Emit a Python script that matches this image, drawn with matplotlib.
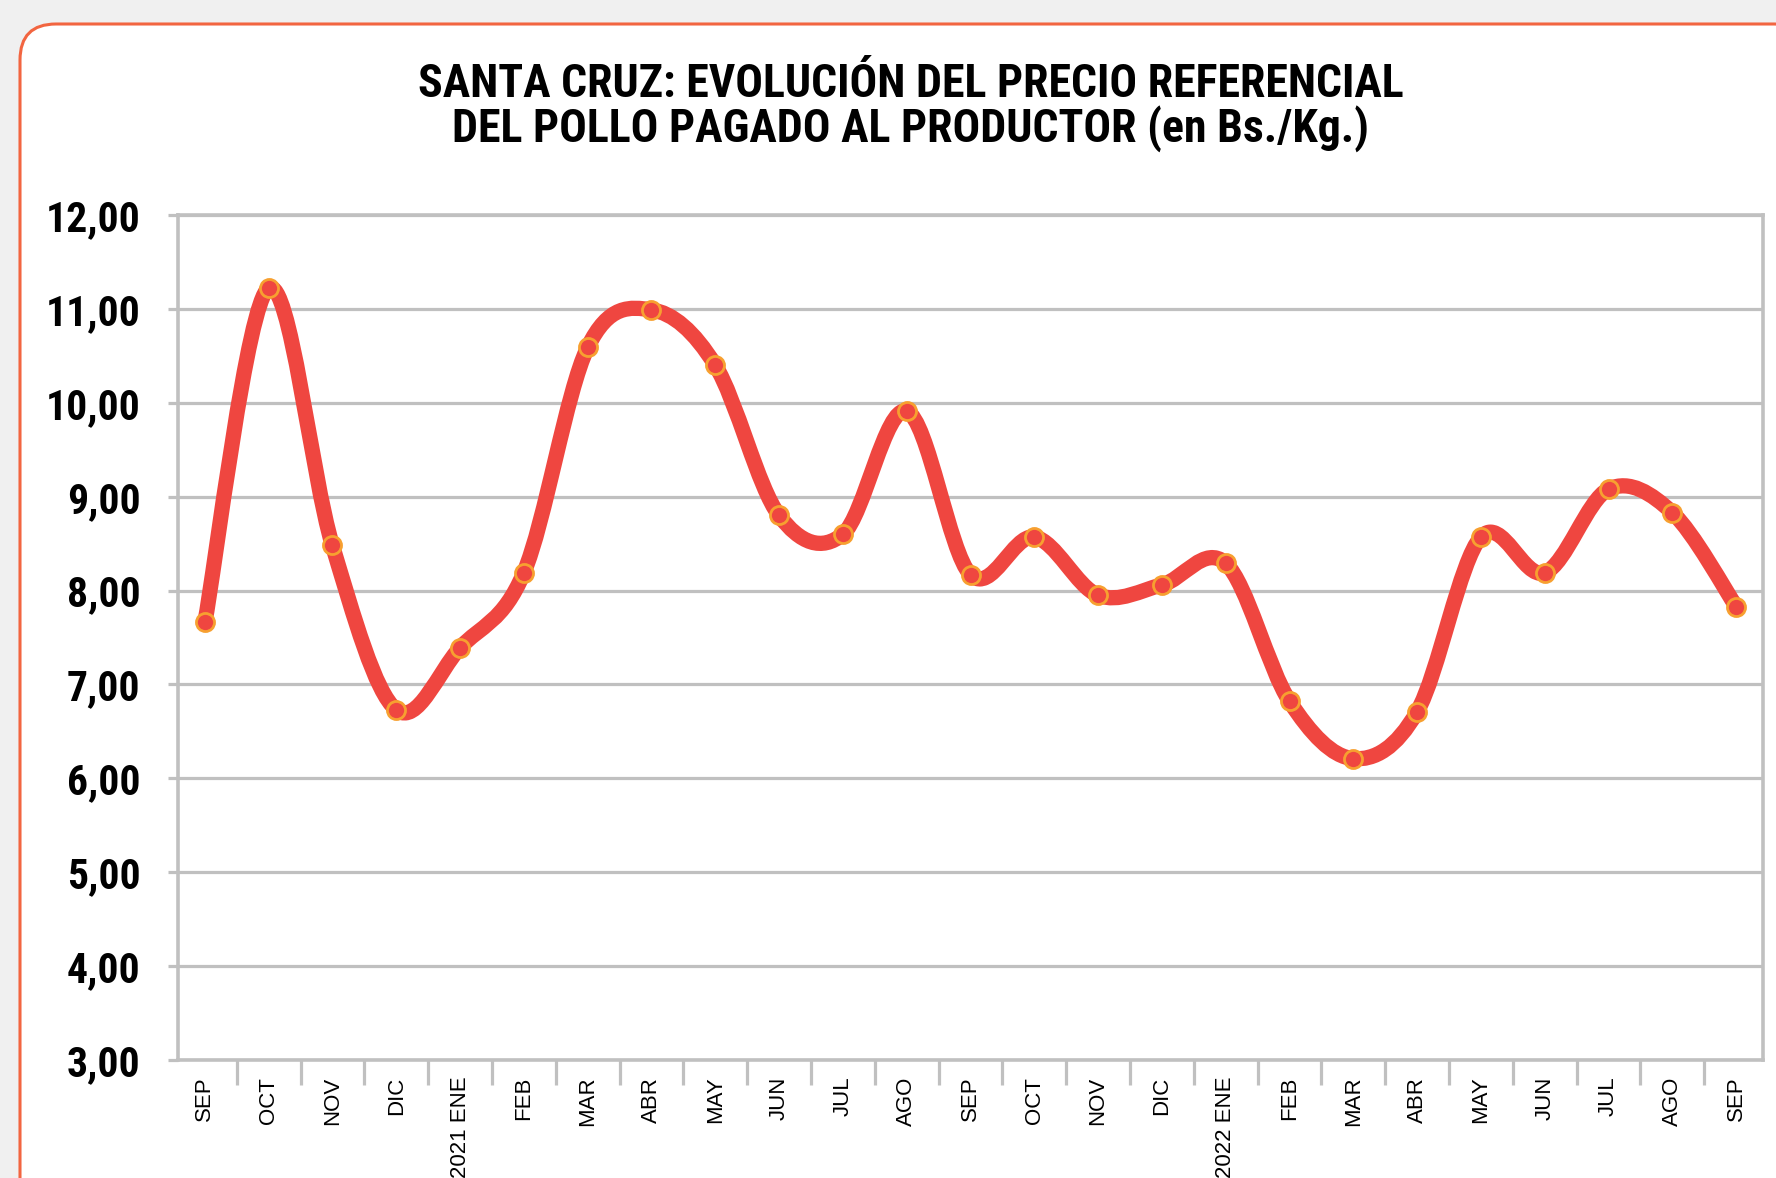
import numpy as np
import matplotlib.pyplot as plt
from matplotlib import font_manager
from matplotlib.path import Path
from matplotlib.patches import PathPatch, FancyBboxPatch

meses = ['SEP', 'OCT', 'NOV', 'DIC', '2021 ENE', 'FEB', 'MAR', 'ABR', 'MAY', 'JUN', 'JUL', 'AGO',
         'SEP', 'OCT', 'NOV', 'DIC', '2022 ENE', 'FEB', 'MAR', 'ABR', 'MAY', 'JUN', 'JUL', 'AGO', 'SEP']
precio = [7.66, 11.22, 8.48, 6.73, 7.39, 8.19, 10.59, 10.99, 10.40, 8.80, 8.60, 9.91,
          8.17, 8.57, 7.95, 8.06, 8.29, 6.82, 6.21, 6.71, 8.57, 8.19, 9.08, 8.83, 7.83]
y_ticks = [3, 4, 5, 6, 7, 8, 9, 10, 11, 12]

titulo = 'SANTA CRUZ: EVOLUCIÓN DEL PRECIO REFERENCIAL\nDEL POLLO PAGADO AL PRODUCTOR (en Bs./Kg.)'

# buscar una fuente estrecha instalada
fonts = font_manager.fontManager.ttflist
names = {f.name for f in fonts}
narrow = None
for n in ['Liberation Sans Narrow', 'Arial Narrow', 'Roboto Condensed', 'Open Sans Condensed',
          'Noto Sans Condensed', 'DejaVu Sans Condensed']:
    if n in names:
        narrow = n
        break
stretch = 'normal'
if narrow is None:
    cond = [f for f in fonts if f.stretch in ('condensed', 'semi-condensed', 'extra-condensed')
            or (isinstance(f.stretch, int) and f.stretch < 500)]
    if cond:
        narrow = cond[0].name
        stretch = cond[0].stretch
    else:
        narrow = 'Roboto' if 'Roboto' in names else 'DejaVu Sans'
scale = 1.0 if narrow != 'Roboto' and narrow != 'DejaVu Sans' else 0.85
regular = 'Liberation Sans' if 'Liberation Sans' in names else 'DejaVu Sans'

rojo = '#ef4640'
gris = '#c0c0c0'

W, H = 1776, 1178
fig = plt.figure(figsize=(W / 100, H / 100), dpi=100)
fig.patch.set_facecolor('#f0f0f0')

# panel de fondo con borde redondeado
bg = fig.add_axes([0, 0, 1, 1], zorder=-1)
bg.set_xlim(0, W)
bg.set_ylim(H, 0)
bg.axis('off')
bg.add_patch(FancyBboxPatch((20, 24), 1790, 1200, boxstyle='round,pad=0,rounding_size=36',
                            fc='white', ec='#f26540', lw=2.2))

fig.text(911 / W, 1 - 107 / H, titulo, ha='center', va='center', fontsize=33 * scale,
         fontweight='bold', family=narrow, fontstretch=stretch, linespacing=1.0)

ax = fig.add_axes([178 / W, (H - 1060) / H, (1763 - 178) / W, (1060 - 215) / H])
ax.set_facecolor('white')

x = np.arange(len(precio))
pts = np.column_stack([x, precio])

# linea suavizada (estilo Excel)
verts = [pts[0]]
codes = [Path.MOVETO]
for i in range(len(pts) - 1):
    p0 = pts[max(i - 1, 0)]
    p1 = pts[i]
    p2 = pts[i + 1]
    p3 = pts[min(i + 2, len(pts) - 1)]
    verts += [p1 + (p2 - p0) / 6, p2 - (p3 - p1) / 6, p2]
    codes += [Path.CURVE4] * 3
ax.add_patch(PathPatch(Path(verts, codes), fill=False, edgecolor=rojo, lw=11,
                       capstyle='round', joinstyle='round', zorder=3))
ax.plot(x, precio, 'o', ms=13, mfc=rojo, mec='#f7a030', mew=2, zorder=4)

ax.set_xlim(-0.42, len(precio) - 1 + 0.42)
ax.set_ylim(3, 12)
ax.set_yticks(y_ticks)
ax.set_yticklabels([f'{v:.2f}'.replace('.', ',') for v in y_ticks],
                   fontsize=30 * scale, fontweight='bold', family=narrow, fontstretch=stretch)
ax.grid(axis='y', color=gris, lw=2.3)
ax.set_axisbelow(True)

ax.set_xticks(x)
ax.set_xticklabels(meses, rotation=90, fontsize=16, family=regular)
ax.set_xticks(x[:-1] + 0.5, minor=True)
ax.tick_params(axis='x', which='major', length=0, pad=12)
ax.tick_params(axis='x', which='minor', length=18, width=2.3, color=gris, direction='out')
ax.tick_params(axis='y', length=7, width=2.3, color=gris, pad=20)

for s in ax.spines.values():
    s.set_color(gris)
    s.set_linewidth(2.6)

fig.savefig('out.png', dpi=100, facecolor=fig.get_facecolor())
